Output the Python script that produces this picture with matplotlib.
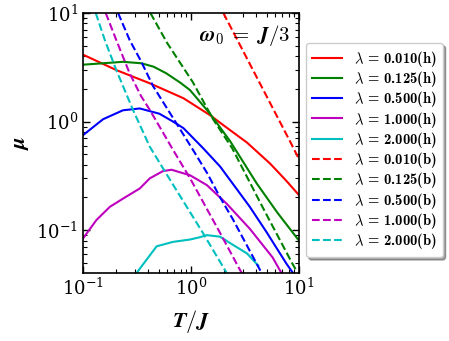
import numpy as np
import matplotlib
matplotlib.use('Agg')
import matplotlib.pyplot as plt

plt.rcParams['mathtext.fontset'] = 'cm'
plt.rcParams['font.family'] = ['DejaVu Serif']

# ---- data (T/J, mu) ----
lambdas = ['0.010', '0.125', '0.500', '1.000', '2.000']
colors = ['r', 'g', 'b', 'm', 'c']

# (h) curves, solid
T_h_010 = [0.1, 0.203, 0.415, 0.85, 1.49, 1.98, 3.3, 5.4, 7.5, 10]
mu_h_010 = [4.13, 2.98, 2.25, 1.64, 1.15, 0.93, 0.64, 0.41, 0.29, 0.21]

T_h_125 = [0.1, 0.153, 0.234, 0.347, 0.45, 0.59, 0.8, 0.977, 1.49, 2.3, 4.05, 6.3, 9.9]
mu_h_125 = [3.34, 3.44, 3.55, 3.44, 3.2, 2.78, 2.27, 1.95, 1.19, 0.66, 0.27, 0.145, 0.081]

T_h_500 = [0.1, 0.153, 0.234, 0.335, 0.51, 0.68, 0.85, 1.29, 1.86, 3.5, 5.0, 7.66, 9.5]
mu_h_500 = [0.75, 1.05, 1.27, 1.32, 1.18, 1.0, 0.87, 0.57, 0.385, 0.164, 0.096, 0.049, 0.036]

T_h_1 = [0.1, 0.133, 0.177, 0.234, 0.335, 0.415, 0.55, 0.66, 0.98, 1.4, 2.14, 3.5, 5.7, 7.0]
mu_h_1 = [0.084, 0.124, 0.164, 0.195, 0.242, 0.30, 0.35, 0.36, 0.32, 0.26, 0.175, 0.103, 0.056, 0.039]

T_h_2 = [0.3, 0.337, 0.48, 0.68, 0.98, 1.2, 1.4, 1.86, 2.3, 3.3, 4.2]
mu_h_2 = [0.038, 0.0445, 0.071, 0.078, 0.082, 0.086, 0.09, 0.087, 0.076, 0.061, 0.047]

# (b) curves, dashed
T_b_010 = [1.99, 4.0, 8.26, 10]
mu_b_010 = [10, 2.63, 0.656, 0.45]

T_b_125 = [0.42, 0.6, 1.04, 1.6, 2.4, 4.64, 8.6, 9.5]
mu_b_125 = [10, 5.3, 2.3, 1.05, 0.57, 0.16, 0.05, 0.042]

T_b_500 = [0.211, 0.27, 0.344, 0.445, 0.78, 1.04, 1.41, 1.86, 2.45, 4.35, 4.6]
mu_b_500 = [10, 5.63, 3.6, 2.12, 0.87, 0.55, 0.335, 0.2, 0.125, 0.043, 0.039]

T_b_1 = [0.162, 0.203, 0.27, 0.344, 0.415, 0.68, 0.98, 1.86, 2.84, 3.0]
mu_b_1 = [10, 5.63, 2.78, 1.72, 1.28, 0.55, 0.3, 0.094, 0.043, 0.039]

T_b_2 = [0.131, 0.159, 0.203, 0.29, 0.415, 0.64, 1.29, 2.15]
mu_b_2 = [10, 5.63, 2.98, 1.28, 0.586, 0.29, 0.094, 0.04]

h_sets = [(T_h_010, mu_h_010), (T_h_125, mu_h_125), (T_h_500, mu_h_500),
          (T_h_1, mu_h_1), (T_h_2, mu_h_2)]
b_sets = [(T_b_010, mu_b_010), (T_b_125, mu_b_125), (T_b_500, mu_b_500),
          (T_b_1, mu_b_1), (T_b_2, mu_b_2)]

# ---- plotting ----
fig = plt.figure(figsize=(4.49, 3.41), dpi=100)
ax = fig.add_axes([0.185, 0.199, 0.481, 0.763])

for (T, mu), c, lam in zip(h_sets, colors, lambdas):
    ax.plot(T, mu, '-', color=c, lw=1.5,
            label=r'$\boldsymbol{\lambda}$ = %s(h)' % lam)
for (T, mu), c, lam in zip(b_sets, colors, lambdas):
    ax.plot(T, mu, '--', color=c, lw=1.5,
            label=r'$\boldsymbol{\lambda}$ = %s(b)' % lam)

ax.set_xscale('log')
ax.set_yscale('log')
ax.set_xlim(0.1, 10)
ax.set_ylim(0.0402, 10)

ax.tick_params(which='both', direction='in', top=True, right=True, labelsize=13)
ax.tick_params(which='major', length=5, width=1)
ax.tick_params(which='minor', length=3, width=0.8)
for s in ax.spines.values():
    s.set_linewidth(1.2)

ax.set_xlabel(r'$\boldsymbol{T/J}$', fontsize=16, labelpad=6)
ax.set_ylabel(r'$\boldsymbol{\mu}$', fontsize=16, labelpad=4)

ax.text(0.958, 0.915, r'$\boldsymbol{\omega}_\mathbf{0}\;\mathbf{=}\;\boldsymbol{J}\mathbf{/3}$',
        transform=ax.transAxes, ha='right', va='center', fontsize=15)

ax.legend(loc='upper left', bbox_to_anchor=(1.032, 0.885),
          prop={'family': 'cmb10', 'size': 10.5},
          fancybox=True, shadow=True, handlelength=2.1, labelspacing=0.02,
          borderaxespad=0.0, framealpha=1.0)

fig.savefig('out.png', dpi=100)
